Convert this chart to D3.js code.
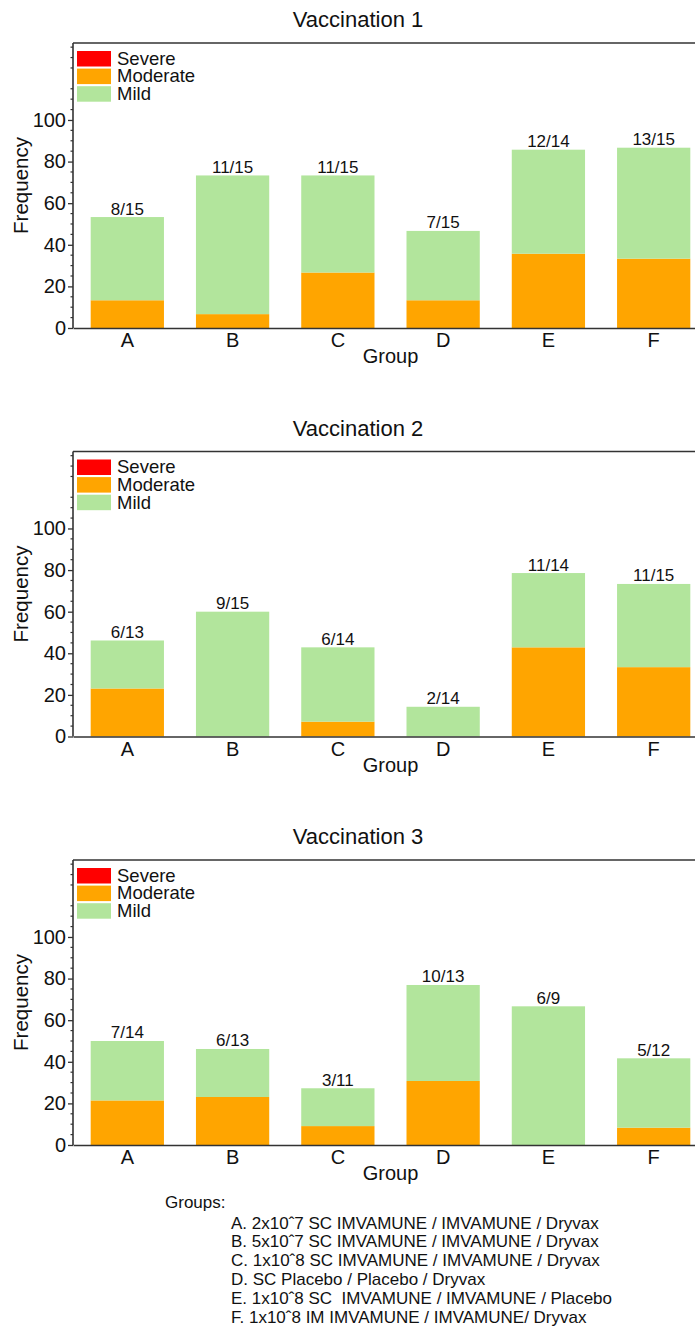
<!DOCTYPE html>
<html>
<head>
<meta charset="utf-8">
<script src="https://cdn.jsdelivr.net/npm/d3@7"></script>
<style>
  html, body { margin: 0; padding: 0; background: #fff; }
  svg { display: block; font-family: "Liberation Sans", Arial, sans-serif; }
</style>
</head>
<body>
<svg id="chart" width="695" height="1332"></svg>
<script>
// Adverse-event frequency per group, one panel per vaccination.
const groups = ["A", "B", "C", "D", "E", "F"];
const severities = ["Severe", "Moderate", "Mild"];
const severityColors = ["#ff0000", "#ffa500", "#b2e59c"];
const panelTitles = ["Vaccination 1", "Vaccination 2", "Vaccination 3"];

// Subject counts per group: severe, moderate and mild reactions, and group size.
const severe1 = [0, 0, 0, 0, 0, 0];
const moderate1 = [2, 1, 4, 2, 5, 5];
const mild1 = [6, 10, 7, 5, 7, 8];
const total1 = [15, 15, 15, 15, 14, 15];

const severe2 = [0, 0, 0, 0, 0, 0];
const moderate2 = [3, 0, 1, 0, 6, 5];
const mild2 = [3, 9, 5, 2, 5, 6];
const total2 = [13, 15, 14, 14, 14, 15];

const severe3 = [0, 0, 0, 0, 0, 0];
const moderate3 = [3, 3, 1, 4, 0, 1];
const mild3 = [4, 3, 2, 6, 6, 4];
const total3 = [14, 13, 11, 13, 9, 12];

const yTicks = [0, 20, 40, 60, 80, 100];

const groupNotes = [
  "A. 2x10ˆ7 SC IMVAMUNE / IMVAMUNE / Dryvax",
  "B. 5x10ˆ7 SC IMVAMUNE / IMVAMUNE / Dryvax",
  "C. 1x10ˆ8 SC IMVAMUNE / IMVAMUNE / Dryvax",
  "D. SC Placebo / Placebo / Dryvax",
  "E. 1x10ˆ8 SC  IMVAMUNE / IMVAMUNE / Placebo",
  "F. 1x10ˆ8 IM IMVAMUNE / IMVAMUNE/ Dryvax"
];

const panels = [
  { title: panelTitles[0], severe: severe1, moderate: moderate1, mild: mild1, total: total1 },
  { title: panelTitles[1], severe: severe2, moderate: moderate2, mild: mild2, total: total2 },
  { title: panelTitles[2], severe: severe3, moderate: moderate3, mild: mild3, total: total3 }
];

const svg = d3.select("#chart");
const axisColor = "#333";
const textColor = "#111";

const plotLeft = 73, plotRight = 708;
const plotHeight = 285;
const panelTops = [43, 451.5, 860];

const x = d3.scaleBand()
  .domain(groups)
  .range([plotLeft, plotRight])
  .paddingInner(0.304)
  .paddingOuter(0.168);

const color = d3.scaleOrdinal().domain(severities).range(severityColors);

panels.forEach((p, i) => {
  const top = panelTops[i];
  const bottom = top + plotHeight;
  const y = d3.scaleLinear().domain([0, 137]).range([bottom, top]);

  const g = svg.append("g");

  // Stacked percentages: moderate at the bottom, then mild, severe on top
  const rows = groups.map((grp, j) => ({
    group: grp,
    Moderate: p.moderate[j] / p.total[j] * 100,
    Mild: p.mild[j] / p.total[j] * 100,
    Severe: p.severe[j] / p.total[j] * 100,
    label: (p.moderate[j] + p.mild[j] + p.severe[j]) + "/" + p.total[j]
  }));
  const stack = d3.stack().keys(["Moderate", "Mild", "Severe"])(rows);

  g.selectAll("g.layer")
    .data(stack)
    .join("g")
    .attr("class", "layer")
    .attr("fill", d => color(d.key))
    .selectAll("rect")
    .data(d => d)
    .join("rect")
    .attr("x", d => x(d.data.group))
    .attr("width", x.bandwidth())
    .attr("y", d => y(d[1]))
    .attr("height", d => Math.max(0, y(d[0]) - y(d[1])));

  // n/N labels above each bar
  g.selectAll("text.count")
    .data(rows)
    .join("text")
    .attr("class", "count")
    .attr("x", d => x(d.group) + x.bandwidth() / 2)
    .attr("y", d => y(d.Moderate + d.Mild + d.Severe) - 2.5)
    .attr("text-anchor", "middle")
    .attr("font-size", 17)
    .attr("fill", textColor)
    .text(d => d.label);

  // Frame: top border and left/bottom axes
  g.append("line")
    .attr("x1", plotLeft).attr("x2", plotRight)
    .attr("y1", top).attr("y2", top)
    .attr("stroke", axisColor).attr("stroke-width", 1.6);

  const yAxis = g.append("g")
    .attr("transform", `translate(${plotLeft},0)`)
    .call(d3.axisLeft(y).tickValues(yTicks).tickSize(5).tickPadding(2).tickSizeOuter(0));
  yAxis.select(".domain").remove();
  yAxis.selectAll(".tick line").attr("stroke", axisColor).attr("stroke-width", 1.3);
  yAxis.selectAll(".tick text")
    .attr("font-size", 20).attr("fill", textColor)
    .attr("font-family", "Liberation Sans, Arial, sans-serif");

  // Minor ticks every 5 units
  const minor = d3.range(5, 137, 5).filter(v => v % 20 !== 0);
  g.append("g").selectAll("line")
    .data(minor)
    .join("line")
    .attr("x1", plotLeft - 2.5).attr("x2", plotLeft)
    .attr("y1", d => y(d)).attr("y2", d => y(d))
    .attr("stroke", axisColor).attr("stroke-width", 1.2);

  g.append("line")
    .attr("x1", plotLeft).attr("x2", plotLeft)
    .attr("y1", top).attr("y2", bottom)
    .attr("stroke", axisColor).attr("stroke-width", 1.6);

  const xAxis = g.append("g")
    .attr("transform", `translate(0,${bottom})`)
    .call(d3.axisBottom(x).tickSize(0).tickPadding(5));
  xAxis.select(".domain").attr("stroke", axisColor).attr("stroke-width", 1.6);
  xAxis.selectAll(".tick text")
    .attr("font-size", 20).attr("fill", textColor)
    .attr("font-family", "Liberation Sans, Arial, sans-serif");

  // Titles
  svg.append("text")
    .attr("x", 358).attr("y", top - 16)
    .attr("text-anchor", "middle")
    .attr("font-size", 22).attr("fill", textColor)
    .text(p.title);

  g.append("text")
    .attr("x", (plotLeft + plotRight) / 2).attr("y", bottom + 35)
    .attr("text-anchor", "middle")
    .attr("font-size", 20).attr("fill", textColor)
    .text("Group");

  g.append("text")
    .attr("transform", `translate(28,${(top + bottom) / 2}) rotate(-90)`)
    .attr("text-anchor", "middle")
    .attr("font-size", 20.5).attr("fill", textColor)
    .text("Frequency");

  // Legend, rows packed tightly
  const legend = g.append("g").attr("transform", `translate(77,${top + 8})`);
  severities.forEach((s, k) => {
    legend.append("rect")
      .attr("x", 0).attr("y", k * 17.6)
      .attr("width", 34).attr("height", 15.5)
      .attr("fill", color(s));
    legend.append("text")
      .attr("x", 40).attr("y", k * 17.6 + 13.8)
      .attr("font-size", 18.5).attr("fill", textColor)
      .text(s);
  });
});

// Group key beneath the panels
svg.append("text")
  .attr("x", 165).attr("y", 1207.5)
  .attr("font-size", 17).attr("fill", textColor)
  .text("Groups:");

svg.append("g").selectAll("text")
  .data(groupNotes)
  .join("text")
  .attr("x", 231)
  .attr("y", (d, k) => 1228.5 + k * 18.85)
  .attr("font-size", 17).attr("fill", textColor)
  .attr("xml:space", "preserve")
  .style("white-space", "pre")
  .text(d => d);
</script>
</body>
</html>
